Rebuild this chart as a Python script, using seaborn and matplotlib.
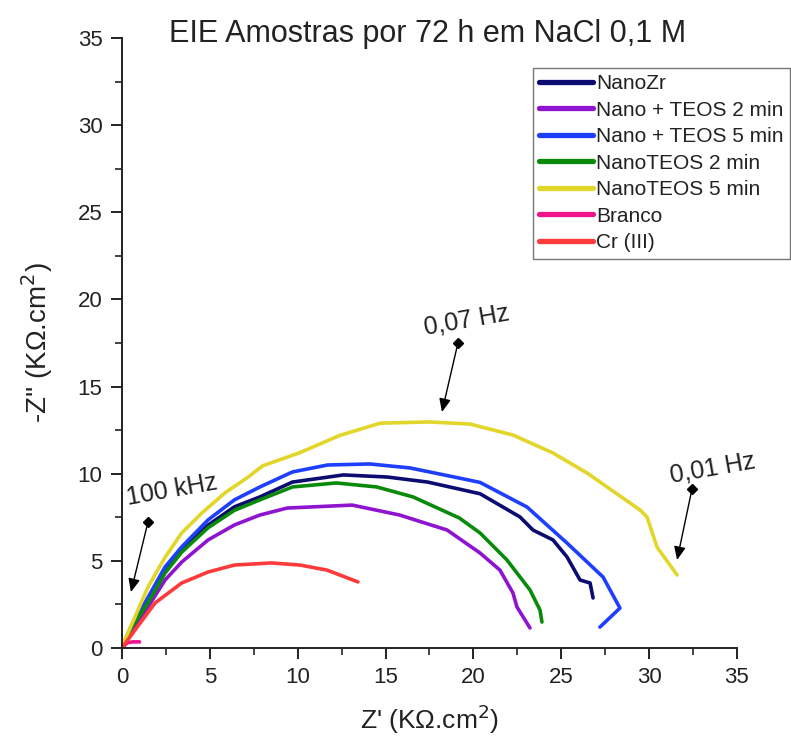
import numpy as np
import pandas as pd
import matplotlib
matplotlib.use("Agg")
import matplotlib.pyplot as plt
import seaborn as sns

series_names = ["NanoZr", "Nano + TEOS 2 min", "Nano + TEOS 5 min",
                "NanoTEOS 2 min", "NanoTEOS 5 min", "Branco", "Cr (III)"]
colors = ["#0b0b72", "#8e14cf", "#1f3fff", "#0a8a0a", "#e3d62a", "#f0148c", "#ff3a3a"]

nanozr_x = [0, 0.5, 1.48, 2.45, 3.4, 4.9, 6.4, 7.85, 9.7, 12.6, 15.1, 17.4, 20.38, 22.65, 23.39, 24.53, 25.33, 26.07, 26.64, 26.81]
nanozr_y = [0, 1.15, 2.7, 4.45, 5.6, 7.05, 8.1, 8.67, 9.52, 9.93, 9.81, 9.52, 8.85, 7.52, 6.77, 6.2, 5.22, 3.9, 3.73, 2.87]

ntp2_x = [0, 0.5, 1.48, 2.45, 3.4, 4.9, 6.4, 7.85, 9.4, 13.1, 15.8, 18.5, 20.38, 21.51, 22.25, 22.48, 23.22]
ntp2_y = [0, 1.0, 2.35, 3.9, 4.93, 6.2, 7.06, 7.63, 8.03, 8.2, 7.63, 6.77, 5.45, 4.47, 3.16, 2.35, 1.15]

ntp5_x = [0, 0.5, 1.48, 2.45, 3.4, 4.9, 6.4, 7.85, 9.7, 11.7, 14.1, 16.4, 19.2, 20.38, 23.05, 25.33, 27.38, 28.34, 27.2]
ntp5_y = [0, 1.2, 2.9, 4.65, 5.8, 7.35, 8.5, 9.24, 10.1, 10.5, 10.56, 10.33, 9.75, 9.5, 8.09, 6.02, 4.07, 2.29, 1.2]

nt2_x = [0, 0.5, 1.48, 2.45, 3.4, 4.9, 6.4, 7.85, 9.7, 12.2, 14.5, 16.56, 19.2, 20.38, 21.91, 23.22, 23.79, 23.9]
nt2_y = [0, 1.1, 2.58, 4.3, 5.5, 6.9, 7.9, 8.5, 9.24, 9.47, 9.24, 8.67, 7.46, 6.6, 5.05, 3.33, 2.18, 1.49]

nt5_x = [0, 0.17, 0.74, 1.48, 2.45, 3.4, 4.55, 5.86, 7.17, 8.0, 10.1, 12.4, 14.7, 17.5, 19.8, 22.25, 24.53, 26.47, 29.48, 29.88, 30.45, 31.59]
nt5_y = [0, 0.47, 1.78, 3.5, 5.2, 6.6, 7.75, 8.9, 9.8, 10.45, 11.2, 12.2, 12.9, 12.97, 12.85, 12.22, 11.19, 10.04, 7.92, 7.52, 5.79, 4.19]

branco_x = [0.05, 0.3, 0.6, 1.0]
branco_y = [0.05, 0.3, 0.35, 0.35]

cr_x = [0, 0.74, 1.88, 3.4, 4.9, 6.4, 8.5, 10.13, 11.67, 13.43]
cr_y = [0, 1.03, 2.58, 3.73, 4.36, 4.76, 4.88, 4.76, 4.47, 3.79]

all_x = [nanozr_x, ntp2_x, ntp5_x, nt2_x, nt5_x, branco_x, cr_x]
all_y = [nanozr_y, ntp2_y, ntp5_y, nt2_y, nt5_y, branco_y, cr_y]

frames = []
for name, xs, ys in zip(series_names, all_x, all_y):
    frames.append(pd.DataFrame({"Zr": xs, "Zi": ys, "Amostra": name}))
df = pd.concat(frames, ignore_index=True)

sns.set_style("ticks")
plt.rcParams['font.family'] = ['Liberation Sans', 'DejaVu Sans']

fig = plt.figure(figsize=(7.91, 7.45), dpi=100)
ax = fig.add_axes([0.1542, 0.1302, 0.9317 - 0.1542, 0.949 - 0.1302])

sns.lineplot(data=df, x="Zr", y="Zi", hue="Amostra", hue_order=series_names,
             palette=dict(zip(series_names, colors)), sort=False, estimator=None,
             linewidth=2.6, ax=ax, legend=False)

ax.set_xlim(0, 35)
ax.set_ylim(0, 35)
ax.set_xticks(np.arange(0, 36, 5))
ax.set_yticks(np.arange(0, 36, 5))
ax.set_xticks(np.arange(2.5, 35, 5), minor=True)
ax.set_yticks(np.arange(2.5, 35, 5), minor=True)
ax.tick_params(which="major", direction="out", length=8, width=1.4, labelsize=16, colors="#222222", pad=6)
ax.tick_params(which="minor", direction="out", length=5, width=1.2, colors="#222222")
for s in ["top", "right"]:
    ax.spines[s].set_visible(False)
for s in ["left", "bottom"]:
    ax.spines[s].set_linewidth(1.4)
    ax.spines[s].set_color("#222222")
ax.margins(0)

ax.set_xlabel("Z' (K\u03a9.cm$^2$)", fontsize=19, labelpad=10, color="#222222")
ax.set_ylabel("-Z'' (K\u03a9.cm$^2$)", fontsize=20, labelpad=16, color="#222222")
fig.text(0.54, 1 - 42 / 745, "EIE Amostras por 72 h em NaCl 0,1 M", ha="center",
         va="baseline", fontsize=22, color="#222222")

# Frequency annotations
annots = [("100 kHz", (2.85, 9.06), (1.48, 7.23), (0.51, 3.21)),
          ("0,07 Hz", (19.64, 18.82), (19.12, 17.5), (18.21, 13.54)),
          ("0,01 Hz", (33.64, 10.33), (32.44, 9.12), (31.59, 5.05))]
for label, tpos, tail, head in annots:
    ax.text(tpos[0], tpos[1], label, ha="center", va="center", rotation=10,
            fontsize=18, color="#222222", clip_on=False)
    ax.annotate("", xy=head, xytext=tail,
                arrowprops=dict(arrowstyle="-|>,head_length=0.8,head_width=0.35",
                                color="black", lw=1.0, shrinkA=0, shrinkB=0),
                annotation_clip=False)
    ax.plot([tail[0]], [tail[1]], marker="D", color="black", markersize=5.5, clip_on=False)

handles = [plt.Line2D([], [], color=c, lw=3.8) for c in colors]
leg = fig.legend(handles, series_names, loc="upper left",
                 bbox_to_anchor=(533 / 791, 1 - 68 / 745), frameon=True,
                 fontsize=15, handlelength=2.6, handletextpad=0.12,
                 labelspacing=0.36, borderpad=0.3, borderaxespad=0,
                 fancybox=False)
leg.get_frame().set_edgecolor("#555555")
leg.get_frame().set_linewidth(1.0)
for t in leg.get_texts():
    t.set_color("#222222")

fig.savefig("out.png", dpi=100)
